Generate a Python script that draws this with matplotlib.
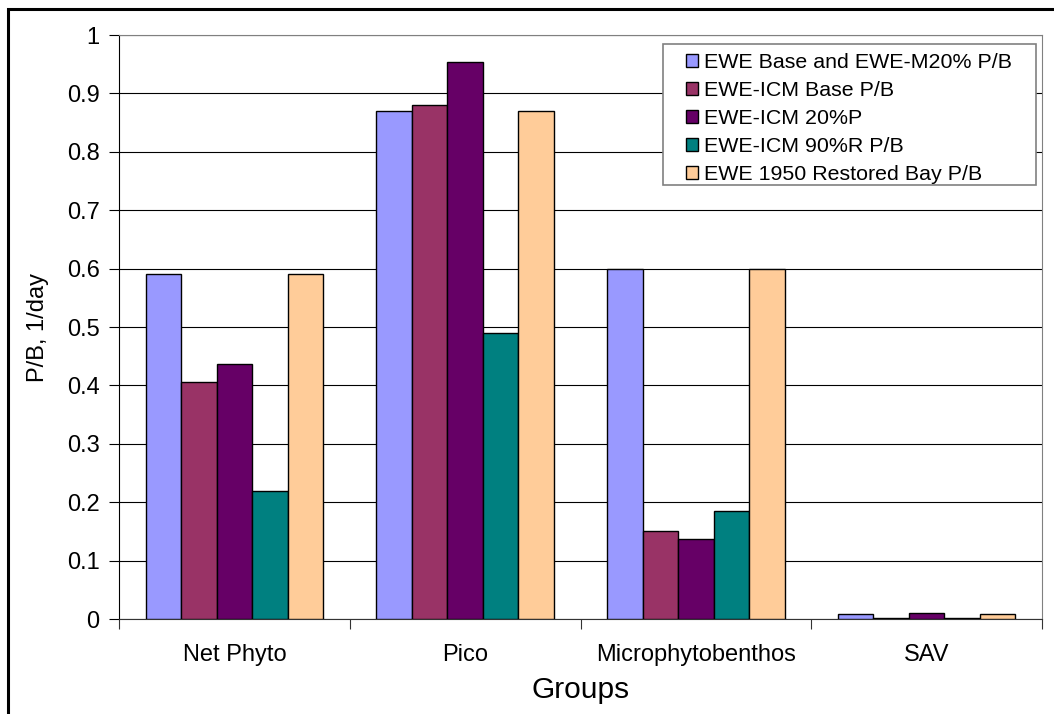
import numpy as np
import matplotlib
matplotlib.use('Agg')
import matplotlib.pyplot as plt
from matplotlib.patches import Rectangle
from matplotlib.ticker import FormatStrFormatter

plt.rcParams['font.family'] = ['Liberation Sans', 'DejaVu Sans']

# Adatok
groups = ['Net Phyto', 'Pico', 'Microphytobenthos', 'SAV']
series = ['EWE Base and EWE-M20% P/B', 'EWE-ICM Base P/B', 'EWE-ICM 20%P',
          'EWE-ICM 90%R P/B', 'EWE 1950 Restored Bay P/B']
ewe_base = [0.59, 0.87, 0.60, 0.009]
icm_base = [0.405, 0.88, 0.15, 0.002]
icm_20p = [0.437, 0.953, 0.137, 0.010]
icm_90r = [0.22, 0.489, 0.185, 0.002]
ewe_1950 = [0.59, 0.87, 0.60, 0.009]
values = [ewe_base, icm_base, icm_20p, icm_90r, ewe_1950]
colors = ['#9999FF', '#993366', '#660066', '#008080', '#FFCC99']

W, H = 1054, 714
fig = plt.figure(figsize=(W / 100, H / 100), dpi=100)
ax = fig.add_axes([119/W, 1 - 619/H, (1042 - 119)/W, (619 - 35)/H])

x = np.arange(len(groups))
w = 1 / 6.5
for i, (vals, c, lab) in enumerate(zip(values, colors, series)):
    ax.bar(x + (i - 2) * w, vals, w, color=c, edgecolor='black', linewidth=1,
           label=lab, zorder=3)

# Tengelyek
ax.set_xlim(-0.5, 3.5)
ax.set_ylim(0, 1)
ax.set_yticks(np.arange(0, 1.01, 0.1))
ax.yaxis.set_major_formatter(FormatStrFormatter('%g'))
ax.yaxis.grid(True, color='black', linewidth=0.8, zorder=0)
ax.set_xticks(np.arange(-0.5, 4, 1))
ax.set_xticklabels([])
ax.set_xticks(x, minor=True)
ax.set_xticklabels(groups, minor=True)
ax.tick_params(axis='x', which='minor', length=0, labelsize=17, pad=18)
ax.tick_params(axis='x', which='major', direction='out', length=7, color='#333333')
ax.tick_params(axis='y', direction='out', length=7, labelsize=17, pad=7)

for s in ['top', 'right']:
    ax.spines[s].set_color('#808080')
ax.spines['left'].set_color('black')
ax.spines['bottom'].set_color('#333333')

ax.set_ylabel('P/B, 1/day', fontsize=17, labelpad=13)
ax.set_xlabel('Groups', fontsize=21.5, labelpad=7)

# Jelmagyarázat (keret külön téglalapként)
ax.add_patch(Rectangle((663/W, 1 - 185/H), (1036 - 663)/W, (185 - 44)/H,
                       transform=fig.transFigure, facecolor='white',
                       edgecolor='#808080', linewidth=1.2, zorder=5, clip_on=False))
leg = ax.legend(loc='upper left', bbox_to_anchor=(686/W, 1 - 53/H),
                bbox_transform=fig.transFigure, fontsize=15.4, frameon=False,
                borderaxespad=0, handlelength=0.56, handleheight=0.56,
                handletextpad=0.3, labelspacing=0.42, borderpad=0)
leg.set_zorder(6)

# Külső keret
fig.patches.append(Rectangle((8/W, -0.1), 2, 1.1 - 9/H, transform=fig.transFigure,
                             fill=False, edgecolor='black', linewidth=2.2))

fig.savefig('out.png', dpi=100)
